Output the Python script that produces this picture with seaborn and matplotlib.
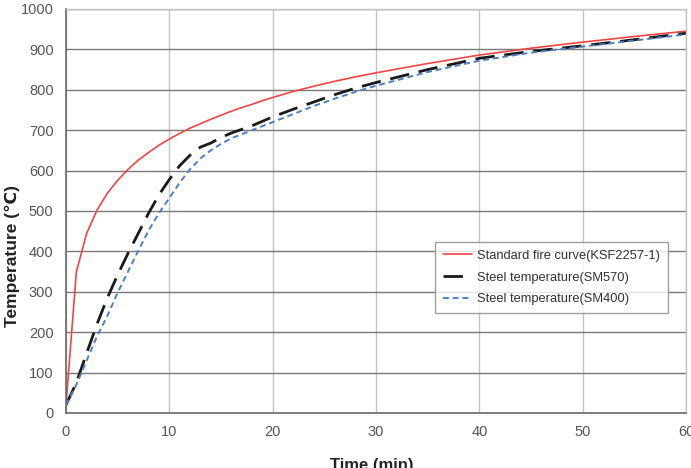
import seaborn as sns
import matplotlib.pyplot as plt
import pandas as pd

# time in minutes
time = [0, 1, 2, 3, 4, 5, 6, 7, 8, 9, 10, 11, 12, 13, 14, 15, 16, 17, 18, 19, 20,
        22, 24, 26, 28, 30, 35, 40, 45, 50, 55, 60]

# temperatures
fire_curve = [20, 349, 445, 502, 544, 576, 603, 626, 645, 663, 678, 692, 705, 716, 727, 737,
              747, 756, 764, 773, 781, 796, 809, 821, 832, 842, 865, 886, 903, 918, 932, 945]
sm570 = [20, 75, 148, 220, 285, 342, 395, 445, 495, 540, 578, 612, 638, 658, 668, 682,
         693, 702, 711, 722, 733, 752, 770, 788, 804, 818, 850, 878, 895, 909, 924, 940]
sm400 = [20, 70, 130, 190, 240, 298, 350, 402, 452, 495, 532, 570, 603, 630, 650, 666,
         680, 690, 700, 710, 720, 740, 760, 778, 795, 810, 844, 872, 892, 907, 922, 937]

labels = ['Standard fire curve(KSF2257-1)', 'Steel temperature(SM570)', 'Steel temperature(SM400)']

df = pd.DataFrame({'time': time, 'fire': fire_curve, 'sm570': sm570, 'sm400': sm400})

sns.set_style('white')
plt.rcParams['font.family'] = ['Liberation Sans Narrow', 'Liberation Sans', 'DejaVu Sans']

fig = plt.figure(figsize=(6.91, 4.68), dpi=100)
ax = fig.add_axes([66 / 691, 1 - 413 / 468, 620 / 691, 404 / 468])

sns.lineplot(data=df, x='time', y='fire', ax=ax, color='#f04545', linewidth=1.2, label=labels[0])
sns.lineplot(data=df, x='time', y='sm570', ax=ax, color='#1a1a1a', linewidth=2.0,
             dashes=False, label=labels[1])
sns.lineplot(data=df, x='time', y='sm400', ax=ax, color='#4a7fc8', linewidth=1.4,
             dashes=False, label=labels[2])
ax.lines[1].set_dashes([7, 3.5])
ax.lines[2].set_dashes([3, 2])

ax.set_xlim(0, 60)
ax.set_ylim(0, 1000)
ax.set_xticks(range(0, 61, 10))
ax.set_yticks(range(0, 1001, 100))

ax.yaxis.grid(True, color='#7a7a7a', linewidth=1.0)
ax.xaxis.grid(True, color='#c4c4c4', linewidth=1.0)
ax.set_axisbelow(True)

for side in ['left', 'bottom']:
    ax.spines[side].set_color('#6a6a6a')
    ax.spines[side].set_linewidth(1.2)
for side in ['top', 'right']:
    ax.spines[side].set_color('#c4c4c4')
    ax.spines[side].set_linewidth(1.0)

ax.tick_params(axis='both', length=0, labelsize=10.5, colors='#555555', pad=9)

ax.set_xlabel('Time (min)', fontsize=12, fontweight='bold', color='#222222')
ax.set_ylabel('Temperature (℃)', fontsize=12.5, fontweight='bold', color='#222222')
ax.xaxis.set_label_coords(372 / 620 - 66 / 620, -(458 - 413) / 404)
ax.yaxis.set_label_coords(-(66 - 20) / 620, (413 - 256) / 404)

leg = ax.legend(loc='lower left', bbox_to_anchor=((435 - 66) / 620, (413 - 313) / 404),
                fontsize=9.3, frameon=True, fancybox=False, edgecolor='#888888',
                borderaxespad=0, handlelength=2.3, borderpad=0.6, labelspacing=0.75,
                handletextpad=0.35)
leg.get_frame().set_linewidth(1.0)
for t in leg.get_texts():
    t.set_color('#333333')

plt.savefig('out.png')
